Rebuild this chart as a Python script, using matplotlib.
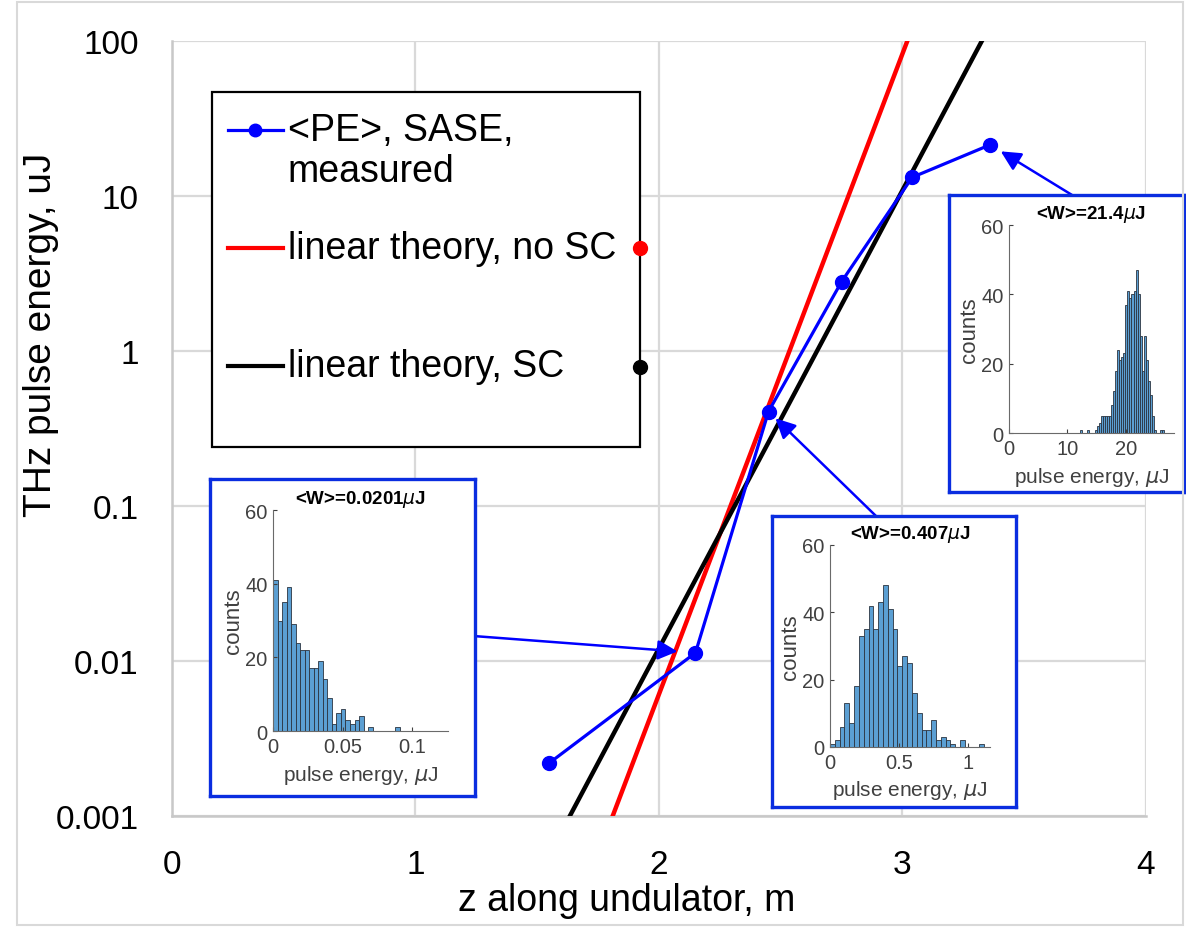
import matplotlib
matplotlib.use("Agg")
import matplotlib.pyplot as plt
import numpy as np
from matplotlib.ticker import FixedLocator, FormatStrFormatter, NullLocator
from matplotlib.patches import Rectangle

plt.rcParams['font.family'] = ['Liberation Sans', 'DejaVu Sans']
plt.rcParams['mathtext.fontset'] = 'dejavusans'

# measured mean pulse energy (blue)
z_meas = [1.55, 2.15, 2.45, 2.75, 3.04, 3.36]
pe_meas = [0.0022, 0.0113, 0.407, 2.8, 13.2, 21.4]

# linear theory lines (read where they cross the plot edges)
z_nosc = [1.81, 3.02]
pe_nosc = [0.001, 100]
z_sc = [1.634, 3.326]
pe_sc = [0.001, 100]

x_ticks = [0, 1, 2, 3, 4]
y_ticks = [0.001, 0.01, 0.1, 1, 10, 100]

# histograms: bin start, bin width, counts
h1_start, h1_width = 0.0, 0.00325
h1_counts = [41, 30, 35, 39, 29, 24, 22, 22, 17, 17, 19, 14, 9, 2, 5, 6, 3, 2,
             3, 4, 0, 1, 0, 0, 0, 0, 0, 1]
h1_title = r'<W>=0.0201$\mu$J'
h1_xlim, h1_xticks = 0.1256, [0, 0.05, 0.1]

h2_start, h2_width = 0.0, 0.035
h2_counts = [1, 2, 6, 13, 7, 18, 33, 35, 42, 35, 43, 48, 41, 35, 24, 27, 25, 16,
             10, 5, 5, 8, 2, 3, 2, 1, 0, 2, 0, 0, 0, 1]
h2_title = r'<W>=0.407$\mu$J'
h2_xlim, h2_xticks = 1.162, [0, 0.5, 1]

h3_start, h3_width = 12.25, 0.35
h3_counts = [1, 0, 0, 1, 0, 0, 0, 1, 2, 3, 5, 5, 5, 5, 5, 8, 12, 18, 24, 21, 22,
             23, 37, 41, 39, 40, 41, 47, 40, 28, 18, 28, 21, 15, 11, 5, 1, 0, 0, 1, 1]
h3_title = r'<W>=21.4$\mu$J'
h3_xlim, h3_xticks = 28.3, [0, 10, 20]

BLUE = '#0000ff'
FRAME = '#0a2de0'
GRID = '#d9d9d9'

fig = plt.figure(figsize=(11.86, 9.28), dpi=100)
fig.patches.append(Rectangle((17 / 1186, 0.002), 1166 / 1186, 0.995,
                             transform=fig.transFigure, fill=False,
                             edgecolor=GRID, lw=1.5))

ax = fig.add_axes([0.145, 0.1196, 0.8212, 0.8351])
ax.plot(z_nosc, pe_nosc, color='red', lw=3.2, solid_capstyle='projecting', zorder=3)
ax.plot(z_sc, pe_sc, color='black', lw=3.2, solid_capstyle='projecting', zorder=3)
ax.plot(z_meas, pe_meas, '-o', color=BLUE, lw=2.3, ms=10, zorder=4)

ax.set_yscale('log')
ax.set_xlim(0, 4)
ax.set_ylim(0.001, 100)
ax.xaxis.set_major_locator(FixedLocator(x_ticks))
ax.yaxis.set_major_locator(FixedLocator(y_ticks))
ax.yaxis.set_minor_locator(NullLocator())
ax.yaxis.set_major_formatter(FormatStrFormatter('%g'))
ax.tick_params(length=0, labelsize=24, pad=24)
ax.grid(True, color=GRID, lw=1.6)
ax.set_axisbelow(True)
for s in ['top', 'right']:
    ax.spines[s].set_visible(False)
for s in ['left', 'bottom']:
    ax.spines[s].set_color('#c8c8c8')
    ax.spines[s].set_linewidth(1.8)
ax.set_xlabel('z along undulator, m', fontsize=27)
ax.set_ylabel('THz pulse energy, uJ', fontsize=28)
ax.xaxis.set_label_coords(0.467, -0.085)
ax.yaxis.set_label_coords(-0.116, 0.622)

# legend box drawn by hand (entries sit on the first line of each block)
ax.add_patch(Rectangle((0.041, 0.476), 0.4395, 0.458, transform=ax.transAxes,
                       facecolor='white', edgecolor='black', lw=1.6, zorder=5))
leg = [('<PE>, SASE,', BLUE, 0.885), ('linear theory, no SC', 'red', 0.733),
       ('linear theory, SC', 'black', 0.581)]
for txt, col, yy in leg:
    ax.plot([0.0575, 0.114], [yy, yy], color=col, lw=3 if col != BLUE else 2.3,
            transform=ax.transAxes, zorder=6)
    ax.text(0.119, yy, txt, fontsize=27, va='center', transform=ax.transAxes, zorder=6)
ax.plot([0.0855], [0.885], 'o', color=BLUE, ms=9, transform=ax.transAxes, zorder=6)
ax.text(0.119, 0.832, 'measured', fontsize=27, va='center', transform=ax.transAxes, zorder=6)
ax.plot([0.4805], [0.733], 'o', color='red', ms=10, transform=ax.transAxes,
        zorder=7, clip_on=False)
ax.plot([0.4805], [0.579], 'o', color='black', ms=10, transform=ax.transAxes,
        zorder=7, clip_on=False)

# arrows from the histogram boxes to the points
arrows = [(1, (0.3988, 0.3136), 13), (2, (0.7386, 0.4429), 7), (5, (0.9039, 0.7888), 9)]
for i, tail, shrink in arrows:
    ax.annotate('', xy=(z_meas[i], pe_meas[i]), xytext=tail, textcoords='figure fraction',
                arrowprops=dict(arrowstyle='-|>', color=BLUE, lw=1.8, mutation_scale=30,
                                shrinkA=0, shrinkB=shrink), zorder=8)


def inset(frame_rect, hist_rect, start, width, counts, title, xmax, xticks):
    fr = fig.add_axes(frame_rect)
    fr.set_xticks([])
    fr.set_yticks([])
    for s in fr.spines.values():
        s.set_color(FRAME)
        s.set_linewidth(2.4)
    h = fig.add_axes(hist_rect)
    edges = start + width * np.arange(len(counts))
    h.bar(edges, counts, width=width, align='edge', color='#5b9fd3',
          edgecolor='#2b3440', lw=0.6)
    h.set_xlim(0, xmax)
    h.set_ylim(0, 60)
    h.set_xticks(xticks)
    h.set_yticks([0, 20, 40, 60])
    h.xaxis.set_major_formatter(FormatStrFormatter('%g'))
    h.tick_params(direction='in', length=3, labelsize=14.5, colors='#404040', pad=4)
    for s in ['top', 'right']:
        h.spines[s].set_visible(False)
    for s in ['left', 'bottom']:
        h.spines[s].set_color('#6a6a6a')
        h.spines[s].set_linewidth(0.8)
    h.set_title(title, fontsize=13.5, fontweight='bold', pad=5)
    h.set_xlabel(r'pulse energy, $\mu$J', fontsize=15, color='#404040', labelpad=5)
    h.set_ylabel('counts', fontsize=16, color='#404040', labelpad=1)


inset([0.177, 0.1412, 0.2234, 0.3416], [0.2302, 0.2112, 0.1476, 0.2381],
      h1_start, h1_width, h1_counts, h1_title, h1_xlim, h1_xticks)
inset([0.6509, 0.1293, 0.2057, 0.3136], [0.6998, 0.194, 0.1349, 0.2177],
      h2_start, h2_width, h2_counts, h2_title, h2_xlim, h2_xticks)
inset([0.8002, 0.4688, 0.198, 0.32], [0.8508, 0.5323, 0.1391, 0.2241],
      h3_start, h3_width, h3_counts, h3_title, h3_xlim, h3_xticks)

fig.savefig('out.png', dpi=100)
